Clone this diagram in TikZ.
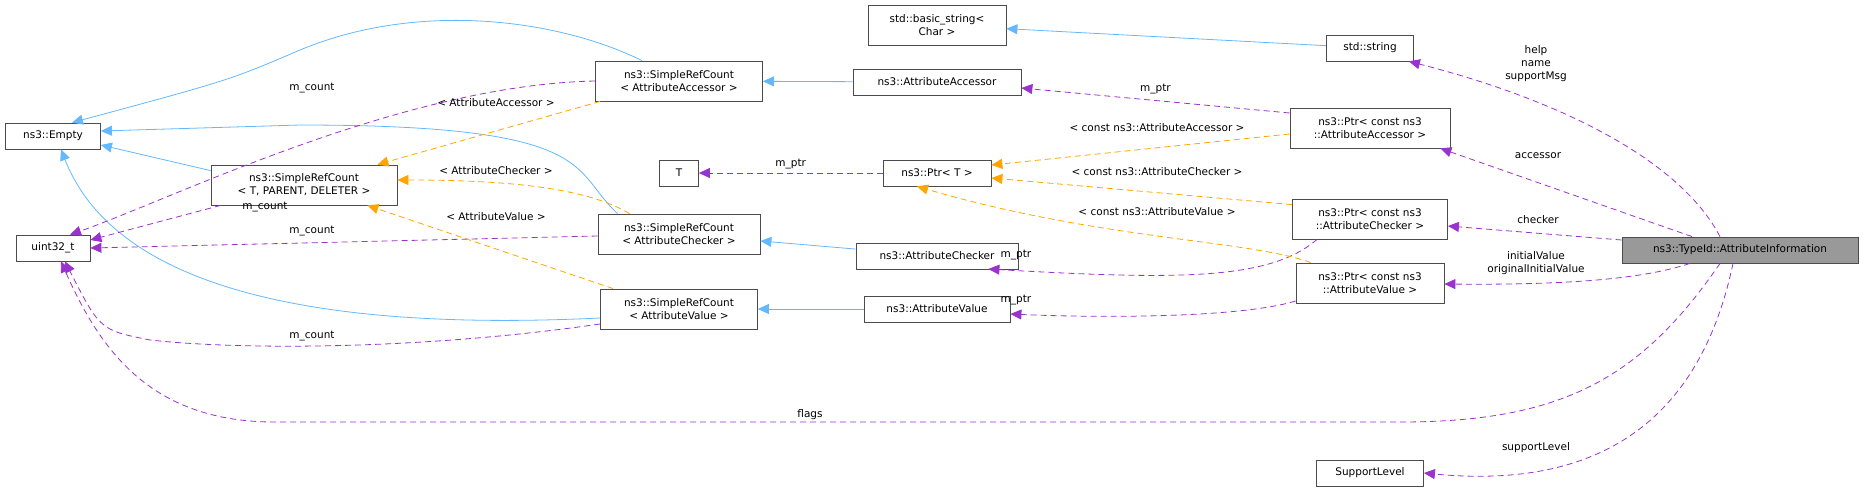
\documentclass[tikz,border=0pt]{standalone}
\usepackage{fontspec}
\setmainfont{DejaVu Sans}
\usetikzlibrary{arrows.meta, positioning, calc}
\definecolor{inhblue}{HTML}{63B8FF}
\definecolor{usepurple}{HTML}{9A32CD}
\definecolor{tmplorange}{HTML}{FFA500}

\begin{document}
\begin{tikzpicture}[x=1pt,y=-1pt,font=\fontsize{10.5}{13}\selectfont]
        % Setup the style for the classes
        \tikzset{class style/.style={draw=black!70, line width=0.8pt,
                                    fill=white, inner sep=2pt,
                                    minimum height=26pt, align=center}}
        \tikzset{class style2/.style={class style, minimum height=40pt}}
        \tikzset{main style/.style={class style, fill=black!40}}
        \tikzset{inherit/.style={draw=inhblue, line width=0.8pt,
                                    -{Triangle[length=11pt,width=10pt]}}}
        \tikzset{member/.style={draw=usepurple, line width=0.8pt, dash pattern=on 6pt off 4pt,
                                    -{Triangle[length=11pt,width=10pt]}}}
        \tikzset{instance/.style={draw=tmplorange, line width=0.8pt, dash pattern=on 6pt off 4pt,
                                    -{Triangle[length=11pt,width=10pt]}}}
        \tikzset{every label node/.style={align=center, inner sep=1pt}}

        \useasboundingbox (0,0) rectangle (1864,491);

        % Draw the classes
        \node[class style, minimum width=95pt] at (53,136)    (empty)   {ns3::Empty};
        \node[class style, minimum width=74pt] at (53,248)    (uint)    {uint32\_t};
        \node[class style2, minimum width=186pt] at (304,185) (srcTPD)  {ns3::SimpleRefCount\\< T, PARENT, DELETER >};
        \node[class style2, minimum width=167pt] at (679,81)  (srcAA)   {ns3::SimpleRefCount\\< AttributeAccessor >};
        \node[class style2, minimum width=162pt] at (679,234) (srcAC)   {ns3::SimpleRefCount\\< AttributeChecker >};
        \node[class style2, minimum width=157pt] at (679,309) (srcAV)   {ns3::SimpleRefCount\\< AttributeValue >};
        \node[class style, minimum width=39pt] at (679,173)   (tee)     {T};
        \node[class style2, minimum width=138pt] at (937,25)  (basic)   {std::basic\_string<\\Char >};
        \node[class style, minimum width=168pt] at (937,82)   (accessor) {ns3::AttributeAccessor};
        \node[class style, minimum width=108pt] at (937,173)  (ptrT)    {ns3::Ptr< T >};
        \node[class style, minimum width=162pt] at (937,256)  (checker) {ns3::AttributeChecker};
        \node[class style, minimum width=146pt] at (937,309)  (value)   {ns3::AttributeValue};
        \node[class style, minimum width=87pt] at (1370,48)   (string)  {std::string};
        \node[class style2, minimum width=160pt] at (1370,128) (ptrAA)  {ns3::Ptr< const ns3\\::AttributeAccessor >};
        \node[class style2, minimum width=155pt] at (1370,219) (ptrAC)  {ns3::Ptr< const ns3\\::AttributeChecker >};
        \node[class style2, minimum width=148pt] at (1370,283) (ptrAV)  {ns3::Ptr< const ns3\\::AttributeValue >};
        \node[main style, minimum width=236pt] at (1740,250)  (info)    {ns3::TypeId::AttributeInformation};
        \node[class style, minimum width=107pt] at (1370,473) (level)   {SupportLevel};

        % Connect the classes: inheritance
        \draw[inherit] ($(srcAA.north)+(-37,0)$) .. controls (560,20) and (420,0) .. (300,50) .. controls (230,80) .. ($(empty.north)+(19,0)$);
        \draw[inherit] ($(srcTPD.north west)+(0,6)$) -- ($(empty.east)+(0,9)$);
        \draw[inherit] ($(srcAC.north west)+(20,0)$) .. controls (570,170) and (600,125) .. (300,125) -- ($(empty.east)+(0,-5)$);
        \draw[inherit] ($(srcAV.west)+(0,9)$) .. controls (350,330) and (120,300) .. ($(empty.south)+(8,0)$);
        \draw[inherit] (string) -- (basic);
        \draw[inherit] (accessor) -- (srcAA);
        \draw[inherit] (checker) -- (srcAC);
        \draw[inherit] (value) -- (srcAV);

        % members
        \draw[member] (srcAA.west) .. controls (400,85) and (170,200) .. ($(uint.north)+(17,0)$);
        \node at (312,88) {m\_count};
        \draw[member] ($(srcTPD.south west)+(10,0)$) -- ($(uint.east)+(0,-8)$);
        \node at (265,207) {m\_count};
        \draw[member] ($(srcAC.west)+(0,2)$) -- (uint.east);
        \node at (312,231) {m\_count};
        \draw[member] ($(srcAV.west)+(0,15)$) .. controls (420,350) and (240,350) .. (150,340) .. controls (100,330) .. ($(uint.south)+(12,0)$);
        \node at (312,336) {m\_count};
        \draw[member] (ptrT) -- node[above] {m\_ptr} (tee);
        \draw[member] ($(ptrAA.west)+(0,-15)$) -- node[above=3pt] {m\_ptr} ($(accessor.east)+(0,6)$);
        \draw[member] ($(ptrAC.south west)+(25,0)$) .. controls (1270,280) and (1180,280) .. ($(checker.east)+(-30,13)$);
        \node at (1016,255) {m\_ptr};
        \draw[member] ($(ptrAV.west)+(0,18)$) .. controls (1240,318) and (1100,318) .. ($(value.east)+(0,5)$);
        \node at (1016,300) {m\_ptr};
        \draw[member] ($(info.north)+(-20,0)$) .. controls (1680,160) and (1560,100) .. ($(string.south east)+(-5,0)$);
        \node[align=center] at (1536,64) {help\\name\\supportMsg};
        \draw[member] ($(info.north)+(-48,0)$) -- ($(ptrAA.south east)+(-10,0)$);
        \node at (1538,156) {accessor};
        \draw[member] ($(info.west)+(0,-10)$) -- ($(ptrAC.east)+(0,7)$);
        \node at (1538,220) {checker};
        \draw[member] ($(info.south)+(-50,0)$) .. controls (1640,280) and (1560,285) .. ($(ptrAV.east)+(0,1)$);
        \node[align=center] at (1536,263) {initialValue\\originalInitialValue};
        \draw[member] ($(info.south)+(-20,0)$) .. controls (1640,380) and (1560,422) .. (1400,422) -- (270,422) .. controls (150,420) and (100,350) .. ($(uint.south)+(8,0)$);
        \node at (810,415) {flags};
        \draw[member] ($(info.south)+(-7,0)$) .. controls (1700,420) and (1600,490) .. (level.east);
        \node at (1536,448) {supportLevel};

        % template instances
        \draw[instance] ($(srcAA.south west)+(5,0)$) -- ($(srcTPD.north east)+(-20,0)$);
        \node at (496,103) {< AttributeAccessor >};
        \draw[instance] ($(srcAC.north west)+(32,0)$) .. controls (590,190) and (520,180) .. ($(srcTPD.east)+(0,-5)$);
        \node at (496,171) {< AttributeChecker >};
        \draw[instance] ($(srcAV.north west)+(13,0)$) -- ($(srcTPD.south east)+(-30,0)$);
        \node at (496,217) {< AttributeValue >};
        \draw[instance] ($(ptrAA.west)+(0,6)$) -- ($(ptrT.east)+(0,-8)$);
        \node at (1157,128) {< const ns3::AttributeAccessor >};
        \draw[instance] ($(ptrAC.north west)+(0,6)$) -- ($(ptrT.east)+(0,5)$);
        \node at (1157,172) {< const ns3::AttributeChecker >};
        \draw[instance] ($(ptrAV.north west)+(15,0)$) .. controls (1250,240) and (1100,240) .. ($(ptrT.south)+(-20,0)$);
        \node at (1157,212) {< const ns3::AttributeValue >};
\end{tikzpicture}
\end{document}
